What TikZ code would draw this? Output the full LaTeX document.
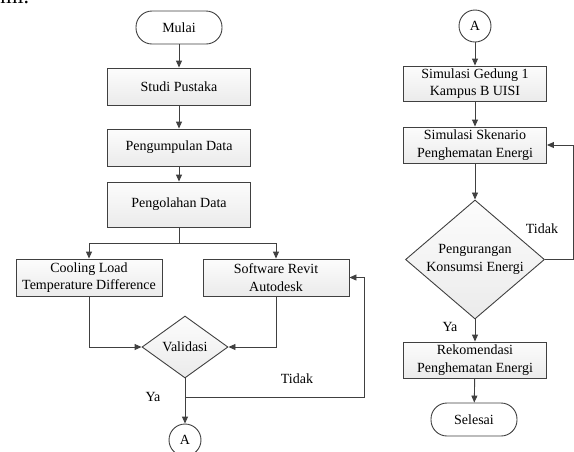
\documentclass[tikz,border=0pt]{standalone}
\usepackage{fontspec}
\setmainfont{Liberation Serif}
\usepackage{tikz}
\usetikzlibrary{arrows.meta, shapes.geometric}
\definecolor{garis}{HTML}{404040}
\tikzset{
  kotak/.style = {align=center, inner sep=0pt, text centered,
    draw=garis, line width=0.9pt},
  proses/.style = {kotak, rectangle, top color=gray!2, bottom color=gray!16,
    minimum width=143pt, minimum height=37pt},
  terminal/.style = {kotak, rectangle, rounded corners=16pt, fill=white,
    minimum width=86pt, minimum height=33pt},
  keputusan/.style = {kotak, diamond, shape aspect=1.2,
    top color=gray!2, bottom color=gray!16},
  konektor/.style = {kotak, circle, fill=white, minimum size=32pt},
  ket/.style = {inner sep=0pt}
}
\begin{document}
\begin{tikzpicture}[x=1pt, y=-1pt, ->, >={Triangle[length=7pt,width=6pt]},
  line width=0.9pt, draw=garis, font=\fontsize{14}{17.5}\selectfont]
\useasboundingbox (0,0) rectangle (574,451);
\node [ket, anchor=base west, font=\fontsize{22}{26}\selectfont] (sisa) at (0,3.7) {mi.};
% kolom kiri
\node [terminal] (mulai) at (179,27.5) {Mulai};
\node [proses] (studi) at (179,86.5) {Studi Pustaka};
\node [proses] (kumpul) at (179,147.5) {Pengumpulan Data};
\node [proses, minimum height=45pt] (olah) at (179,204.5) {Pengolahan Data};
\node [proses, minimum width=146pt] (cooling) at (89,277.5) {Cooling Load\\Temperature Difference};
\node [proses, minimum width=146pt] (revit) at (276,277.5) {Software Revit\\Autodesk};
\node [keputusan, minimum width=86pt, minimum height=62pt] (valid) at (185,347) {Validasi};
\node [konektor] (a1) at (185,440) {A};
\coordinate (cabang) at (179,243);
\coordinate (simpang) at (185,397);
\coordinate (belok) at (364,397);
\node [ket] (tidak1) at (297,379) {Tidak};
\node [ket] (ya1) at (153,397) {Ya};
\draw (mulai) -- (studi);
\draw (studi) -- (kumpul);
\draw (kumpul) -- (olah);
\draw [-] (olah) -- (cabang);
\draw (cabang) -| (cooling);
\draw (cabang) -| (revit);
\draw (cooling) |- (valid);
\draw (revit) |- (valid);
\draw (valid) -- (a1);
\draw (simpang) -- (belok) |- (revit);
% kolom kanan
\node [konektor] (a2) at (475,26) {A};
\node [proses, minimum height=35pt] (gedung) at (475,83.5) {Simulasi Gedung 1\\Kampus B UISI};
\node [proses, minimum height=36pt] (skenario) at (475,145) {Simulasi Skenario\\Penghematan Energi};
\node [keputusan, minimum width=139pt, minimum height=119pt] (kurang) at (475,259.5) {Pengurangan\\Konsumsi Energi};
\node [proses, minimum height=36pt] (rekom) at (475,360) {Rekomendasi\\Penghematan Energi};
\node [terminal] (selesai) at (474,419.5) {Selesai};
\coordinate (ujung) at (573,259.5);
\node [ket] (tidak2) at (542,229) {Tidak};
\node [ket] (ya2) at (450,327) {Ya};
\draw (a2) -- (gedung);
\draw (gedung) -- (skenario);
\draw (skenario) -- (kurang);
\draw (kurang) -- (rekom);
\draw (rekom) -- (selesai);
\draw (kurang.east) -- (ujung) |- (skenario);
\end{tikzpicture}
\end{document}
